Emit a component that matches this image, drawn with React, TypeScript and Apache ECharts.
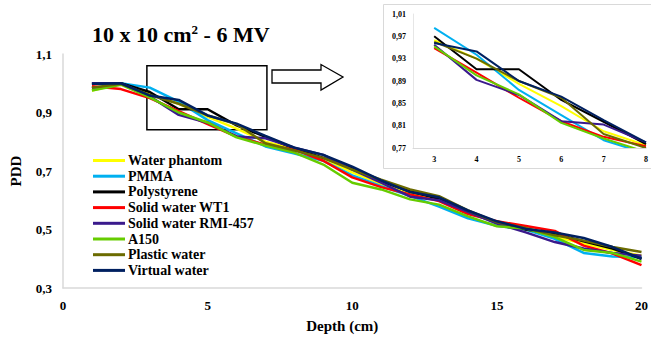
import React, { useEffect, useRef } from "react";
import * as echarts from "echarts";

const depths = [1, 2, 3, 4, 5, 6, 7, 8, 9, 10, 11, 12, 13, 14, 15, 16, 17, 18, 19, 20];
const insetDepths = [3, 4, 5, 6, 7, 8];

const seriesNames = [
  "Water phantom",
  "PMMA",
  "Polystyrene",
  "Solid water WT1",
  "Solid water RMI-457",
  "A150",
  "Plastic water",
  "Virtual water",
];
const seriesColors = ["#FFFF00", "#00B0F0", "#000000", "#FF0000", "#3A1A8C", "#66CC00", "#6B6B00", "#002060"];

const waterPhantom = [0.975, 1.0, 0.963, 0.93, 0.885, 0.845, 0.8, 0.775, 0.742, 0.695, 0.655, 0.625, 0.6, 0.56, 0.522, 0.5, 0.475, 0.452, 0.43, 0.41];
const pmma = [0.983, 1.0, 0.985, 0.937, 0.874, 0.829, 0.784, 0.76, 0.735, 0.685, 0.648, 0.615, 0.578, 0.538, 0.513, 0.5, 0.468, 0.42, 0.408, 0.405];
const polystyrene = [0.998, 1.0, 0.97, 0.911, 0.911, 0.856, 0.817, 0.777, 0.745, 0.71, 0.665, 0.63, 0.605, 0.56, 0.525, 0.5, 0.485, 0.46, 0.435, 0.4];
const solidWaterWT1 = [0.99, 0.98, 0.949, 0.905, 0.86, 0.818, 0.79, 0.773, 0.735, 0.678, 0.645, 0.62, 0.597, 0.553, 0.528, 0.512, 0.495, 0.445, 0.418, 0.378];
const solidWaterRMI = [1.0, 1.0, 0.955, 0.892, 0.865, 0.818, 0.812, 0.78, 0.755, 0.705, 0.66, 0.612, 0.6, 0.56, 0.52, 0.49, 0.457, 0.435, 0.42, 0.41];
const a150 = [0.975, 0.995, 0.952, 0.9, 0.866, 0.815, 0.787, 0.763, 0.722, 0.66, 0.637, 0.603, 0.585, 0.545, 0.511, 0.503, 0.474, 0.43, 0.42, 0.39];
const plasticWater = [0.985, 0.998, 0.96, 0.93, 0.89, 0.86, 0.795, 0.77, 0.745, 0.705, 0.67, 0.637, 0.614, 0.565, 0.525, 0.505, 0.48, 0.462, 0.44, 0.423];
const virtualWater = [0.998, 1.0, 0.958, 0.943, 0.89, 0.862, 0.82, 0.78, 0.755, 0.715, 0.668, 0.628, 0.61, 0.565, 0.528, 0.502, 0.49, 0.471, 0.44, 0.4];

const allValues = [waterPhantom, pmma, polystyrene, solidWaterWT1, solidWaterRMI, a150, plasticWater, virtualWater];

const mainYTicks = { min: 0.3, max: 1.1, interval: 0.2 };
const insetYTicks = { min: 0.77, max: 1.01, interval: 0.04 };
const zoomBox = { x0: 2.9, y0: 1.06, x1: 7.05, y1: 0.841 };

const FONT = "'Liberation Serif', 'Times New Roman', serif";

export default function App() {
  const ref = useRef<HTMLDivElement>(null);

  useEffect(() => {
    if (!ref.current) return;
    const chart = echarts.init(ref.current, null, { renderer: "svg" });

    const mainSeries = seriesNames.map((name, i) => ({
      name,
      type: "line",
      xAxisIndex: 0,
      yAxisIndex: 0,
      data: depths.map((d, k) => [d, allValues[i][k]]),
      showSymbol: false,
      symbol: "none",
      lineStyle: { color: seriesColors[i], width: 2.5 },
      itemStyle: { color: seriesColors[i] },
      z: 3,
      markArea:
        i === 0
          ? {
              silent: true,
              itemStyle: { color: "rgba(0,0,0,0)", borderColor: "#000", borderWidth: 1.5 },
              data: [[{ coord: [zoomBox.x0, zoomBox.y0] }, { coord: [zoomBox.x1, zoomBox.y1] }]],
            }
          : undefined,
    }));

    const insetSeries = seriesNames.map((name, i) => ({
      name,
      type: "line",
      xAxisIndex: 1,
      yAxisIndex: 1,
      data: insetDepths.map((d) => [d, allValues[i][depths.indexOf(d)]]),
      showSymbol: false,
      symbol: "none",
      clip: true,
      lineStyle: { color: seriesColors[i], width: 2 },
      itemStyle: { color: seriesColors[i] },
      z: 5,
    }));

    const option = {
      animation: false,
      backgroundColor: "#fff",
      textStyle: { fontFamily: FONT },
      title: {
        text: "10 x 10 cm{sup|2} - 6 MV",
        left: 92,
        top: 23,
        padding: 0,
        textStyle: {
          fontFamily: FONT,
          fontWeight: "bold",
          fontSize: 22,
          color: "#000",
          rich: {
            sup: { fontFamily: FONT, fontWeight: "bold", fontSize: 13, color: "#000", verticalAlign: "top", padding: [0, 0, 10, 0] },
          },
        },
      },
      legend: {
        orient: "vertical",
        left: 93,
        top: 153,
        padding: 0,
        itemWidth: 32,
        itemHeight: 3,
        itemGap: 0.7,
        icon: "rect",
        data: seriesNames,
        textStyle: { fontFamily: FONT, fontWeight: "bold", fontSize: 14, color: "#000", lineHeight: 15, padding: [0, 0, 0, -2] },
      },
      graphic: [
        {
          type: "rect",
          shape: { x: 383.5, y: 4.5, width: 280, height: 164 },
          style: { fill: "#fff", stroke: "#d9d9d9", lineWidth: 1 },
          z: 1,
          silent: true,
        },
        {
          type: "polygon",
          shape: {
            points: [
              [272, 70],
              [321, 70],
              [321, 64.5],
              [343, 77],
              [321, 90],
              [321, 83],
              [272, 83],
            ],
          },
          style: { fill: "#fff", stroke: "#000", lineWidth: 1.3 },
          z: 10,
          silent: true,
        },
      ],
      grid: [
        { left: 59, right: 4, top: 54, bottom: 46.5, containLabel: false },
        { left: 413, right: 3, top: 14, bottom: 190, containLabel: false, z: 4 },
      ],
      xAxis: [
        {
          type: "value",
          gridIndex: 0,
          min: 0,
          max: 20,
          interval: 5,
          name: "Depth (cm)",
          nameLocation: "middle",
          nameGap: 30,
          nameTextStyle: { fontFamily: FONT, fontWeight: "bold", fontSize: 15, color: "#000", padding: [0, 20, 0, 0] },
          axisLine: { show: true, lineStyle: { color: "#d9d9d9", width: 1.5 } },
          axisTick: { show: false },
          splitLine: { show: false },
          axisLabel: { fontFamily: FONT, fontWeight: "bold", fontSize: 13, color: "#000", margin: 11 },
        },
        {
          type: "value",
          gridIndex: 1,
          z: 6,
          min: 2.5,
          max: 8,
          interval: 0.5,
          axisLine: { show: true, lineStyle: { color: "#d9d9d9", width: 1 } },
          axisTick: { show: false },
          splitLine: { show: false },
          axisLabel: {
            fontFamily: FONT,
            fontWeight: "bold",
            fontSize: 8,
            color: "#000",
            margin: 7,
            showMaxLabel: true,
            formatter: (v: number) => (Math.abs(v - Math.round(v)) < 1e-6 ? String(Math.round(v)) : ""),
          },
        },
      ],
      yAxis: [
        {
          type: "value",
          gridIndex: 0,
          min: mainYTicks.min,
          max: mainYTicks.max,
          interval: mainYTicks.interval,
          name: "PDD",
          nameLocation: "middle",
          nameGap: 40,
          nameTextStyle: { fontFamily: FONT, fontWeight: "bold", fontSize: 15, color: "#000" },
          axisLine: { show: true, lineStyle: { color: "#d9d9d9", width: 1.5 } },
          axisTick: { show: false },
          splitLine: { show: false },
          axisLabel: {
            fontFamily: FONT,
            fontWeight: "bold",
            fontSize: 13,
            color: "#000",
            margin: 11,
            formatter: (v: number) => v.toFixed(1).replace(".", ","),
          },
        },
        {
          type: "value",
          gridIndex: 1,
          z: 6,
          min: insetYTicks.min,
          max: insetYTicks.max,
          interval: insetYTicks.interval,
          axisLine: { show: true, lineStyle: { color: "#e6e6e6", width: 1 } },
          axisTick: { show: false },
          splitLine: { show: false },
          axisLabel: {
            fontFamily: FONT,
            fontWeight: "bold",
            fontSize: 8,
            color: "#000",
            margin: 7,
            formatter: (v: number) => v.toFixed(2).replace(".", ","),
          },
        },
      ],
      series: [...mainSeries, ...insetSeries],
    };

    chart.setOption(option as any);
    return () => chart.dispose();
  }, []);

  return <div ref={ref} style={{ position: "absolute", left: 0, top: 0, width: 651, height: 338 }} />;
}
